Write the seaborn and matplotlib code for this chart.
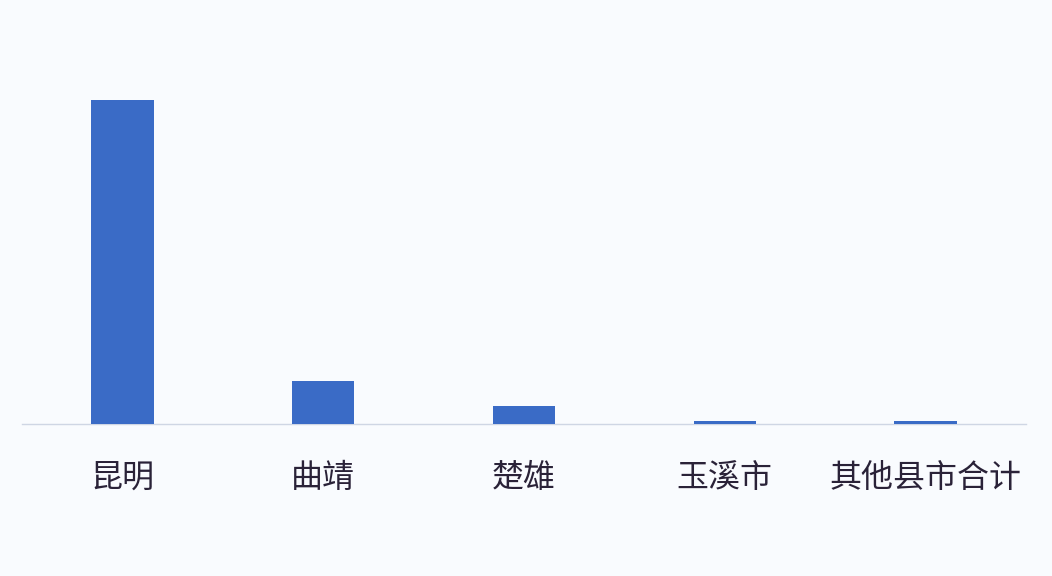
import matplotlib
matplotlib.use("Agg")
import matplotlib.pyplot as plt
import seaborn as sns
import pandas as pd

cities = ["昆明", "曲靖", "楚雄", "玉溪市", "其他县市合计"]
values = [323.5, 43.0, 17.5, 2.5, 2.5]

sns.set_style("white")
plt.rcParams['font.family'] = ['Noto Sans CJK SC', 'DejaVu Sans']

bg = "#f9fbfe"
fig = plt.figure(figsize=(10.52, 5.76), dpi=100, facecolor=bg)
ax = fig.add_axes([22/1052, 152.5/576, 1004/1052, 383.5/576])
ax.set_facecolor(bg)

df = pd.DataFrame({"city": cities, "value": values})
sns.barplot(data=df, x="city", y="value", color="#3a6bc6", saturation=1,
            width=0.31, ax=ax, zorder=3, linewidth=0, edgecolor="#3a6bc6")

ax.set_xlim(-0.5, 4.5)
ax.set_ylim(0, 383.5)
for s in ["top", "right", "left"]:
    ax.spines[s].set_visible(False)
ax.spines["bottom"].set_color("#cfd6e4")
ax.spines["bottom"].set_linewidth(1.0)
ax.spines["bottom"].set_zorder(1)
ax.set_yticks([])
ax.set_xlabel("")
ax.set_ylabel("")
ax.tick_params(axis="x", length=0, pad=28, labelsize=23, labelcolor="#2a2238")

fig.savefig("out.png", dpi=100, facecolor=bg)
